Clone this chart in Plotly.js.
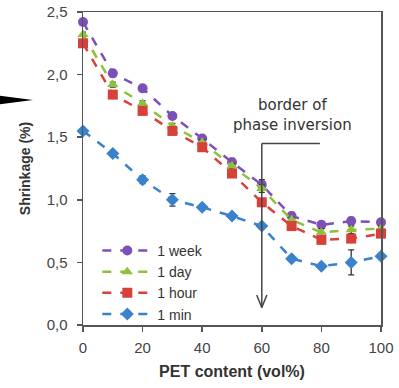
<!DOCTYPE html>
<html>
<head>
<meta charset="utf-8">
<script src="https://cdn.plot.ly/plotly-3.0.1.min.js"></script>
<style>html,body{margin:0;padding:0;background:#fff;}#chart{width:399px;height:388px;}</style>
</head>
<body>
<div id="chart"></div>
<script>
// Data
const petContent = [0, 10, 20, 30, 40, 50, 60, 70, 80, 90, 100];
const seriesNames = ["1 week", "1 day", "1 hour", "1 min"];
const week = [2.42, 2.01, 1.89, 1.67, 1.49, 1.30, 1.12, 0.87, 0.80, 0.83, 0.82];
const day  = [2.32, 1.92, 1.77, 1.59, 1.46, 1.27, 1.09, 0.84, 0.74, 0.76, 0.77];
const hour = [2.25, 1.84, 1.71, 1.55, 1.42, 1.21, 0.98, 0.79, 0.68, 0.69, 0.73];
const min  = [1.55, 1.37, 1.16, 1.00, 0.94, 0.87, 0.79, 0.53, 0.47, 0.50, 0.55];
const weekErr = [0.02, 0.02, 0.02, 0.02, 0.02, 0.03, 0.04, 0.03, 0.02, 0.03, 0.02];
const dayErr  = [0.02, 0.02, 0.02, 0.02, 0.02, 0.02, 0.03, 0.02, 0.03, 0.03, 0.02];
const hourErr = [0.02, 0.02, 0.02, 0.02, 0.02, 0.02, 0.03, 0.02, 0.03, 0.03, 0.02];
const minErr  = [0.02, 0.02, 0.03, 0.05, 0.02, 0.02, 0.02, 0.02, 0.02, 0.10, 0.02];
const xTicks = [0, 20, 40, 60, 80, 100];
const yTicks = [0, 0.5, 1.0, 1.5, 2.0, 2.5];
const annotationText = "border of<br>phase inversion";

const colors = ["#7D4FB8", "#8FC03C", "#D8403A", "#3B82CC"];
const symbols = ["circle", "triangle-up", "square", "diamond"];
const ys = [week, day, hour, min];
const errs = [weekErr, dayErr, hourErr, minErr];

const traces = ys.map((y, i) => ({
  x: petContent, y: y, name: seriesNames[i], type: "scatter", mode: "lines+markers",
  line: {color: colors[i], width: 2.5, dash: "dash"},
  marker: {color: colors[i], symbol: symbols[i], size: 10},
  error_y: {type: "data", array: errs[i], visible: true, color: "#333", thickness: 1.3, width: 3},
  cliponaxis: false
}));

const axisFont = {family: "Liberation Sans, Arial, sans-serif", size: 15, color: "#444"};
const layout = {
  width: 399, height: 388,
  margin: {l: 83, r: 18, t: 12, b: 63},
  paper_bgcolor: "#fff", plot_bgcolor: "#fff",
  separators: ", ",
  showlegend: true,
  legend: {x: 0.048, y: 0.288, xanchor: "left", yanchor: "top", bgcolor: "rgba(0,0,0,0)",
    font: {family: "Liberation Sans, Arial, sans-serif", size: 14, color: "#333"},
    itemwidth: 50, tracegroupgap: 0},
  xaxis: {range: [0, 100], tickvals: xTicks, ticks: "outside", ticklen: 5, tickwidth: 1.5, tickcolor: "#555",
    showline: true, linecolor: "#555", linewidth: 1.5, mirror: true, showgrid: false, zeroline: false,
    tickfont: axisFont, ticklabelstandoff: 3,
    title: {text: "<b>PET content (vol%)</b>", font: {family: "Liberation Sans, Arial, sans-serif", size: 16, color: "#333"}, standoff: 11}},
  yaxis: {range: [0, 2.5], tickvals: yTicks, tickformat: ".1f", ticks: "outside", ticklen: 5, tickwidth: 1.5, tickcolor: "#555",
    showline: true, linecolor: "#555", linewidth: 1.5, mirror: true, showgrid: false, zeroline: false,
    tickfont: axisFont, ticklabelstandoff: 6,
    title: {text: "<b>Shrinkage (%)</b>", font: {family: "Liberation Sans, Arial, sans-serif", size: 14, color: "#333"}, standoff: 12}},
  shapes: [
    {type: "line", xref: "x", yref: "y", x0: 60, x1: 79.5, y0: 1.45, y1: 1.45, line: {color: "#444", width: 1.5}},
    {type: "line", xref: "x", yref: "y", x0: 60, x1: 60, y0: 1.45, y1: 0.14, line: {color: "#444", width: 1.5}},
    {type: "line", xref: "x", yref: "y", x0: 60, x1: 58.3, y0: 0.14, y1: 0.24, line: {color: "#444", width: 1.5}},
    {type: "line", xref: "x", yref: "y", x0: 60, x1: 61.7, y0: 0.14, y1: 0.24, line: {color: "#444", width: 1.5}},
    {type: "path", xref: "paper", yref: "paper", path: "M -0.28 0.733 L -0.168 0.719 L -0.28 0.705 Z", fillcolor: "#000", line: {width: 0}}
  ],
  annotations: [
    {xref: "x", yref: "y", x: 70.4, y: 1.68, text: annotationText, showarrow: false,
      font: {family: "DejaVu Sans, sans-serif", size: 15, color: "#333"}, align: "center"}
  ]
};
Plotly.newPlot("chart", traces, layout, {displayModeBar: false, staticPlot: true});
</script>
</body>
</html>
